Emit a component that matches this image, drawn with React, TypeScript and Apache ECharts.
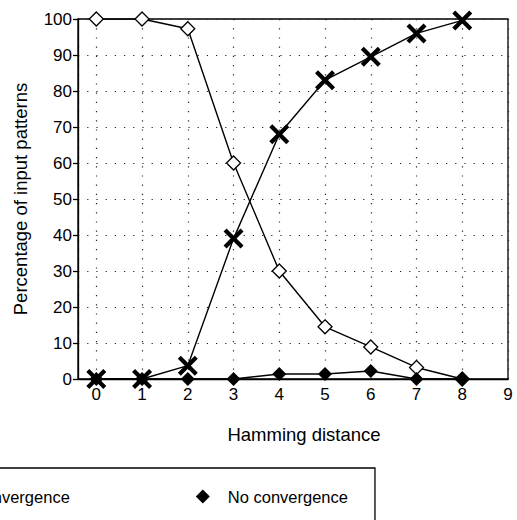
import React, { useEffect, useRef } from "react";
import * as echarts from "echarts";

const hamming = [0, 1, 2, 3, 4, 5, 6, 7, 8];
const xTickLabels = [0, 1, 2, 3, 4, 5, 6, 7, 8, 9];
const correctConv = [100, 100, 97.3, 60, 30, 14.5, 8.9, 3.2, 0];
const incorrectConv = [0, 0, 3.7, 39, 68, 83, 89.5, 96, 99.6];
const noConv = [0, 0, 0, 0, 1.4, 1.4, 2.2, 0, 0];
const yTicks = [0, 10, 20, 30, 40, 50, 60, 70, 80, 90, 100];
const seriesNames = ["Correct convergence", "Incorrect convergence", "No convergence"];

const FONT = "'Liberation Sans', Arial, Helvetica, sans-serif";
const X_PATH =
  "path://M3,0 L10,7 L17,0 L20,3 L13,10 L20,17 L17,20 L10,13 L3,20 L0,17 L7,10 L0,3 Z";

const pairs = (ys: number[]) => hamming.map((x, i) => [x, ys[i]]);

export default function App() {
  const ref = useRef<HTMLDivElement>(null);
  useEffect(() => {
    if (!ref.current) return;
    const chart = echarts.init(ref.current, null, { renderer: "svg" });
    chart.setOption({
      animation: false,
      backgroundColor: "#fff",
      textStyle: { fontFamily: FONT, color: "#000" },
      grid: {
        left: 78,
        right: 9,
        top: 19,
        bottom: 141,
        show: true,
        borderColor: "#000",
        borderWidth: 1.3,
        containLabel: false,
      },
      legend: {
        left: -143,
        top: 468,
        orient: "horizontal",
        padding: [20, 27, 60, 27],
        itemGap: 126,
        itemWidth: 14,
        itemHeight: 14,
        borderColor: "#000",
        borderWidth: 1.3,
        backgroundColor: "#fff",
        textStyle: { fontFamily: FONT, fontSize: 16.5, color: "#000", padding: [0, 0, 0, 13] },
        data: [
          {
            name: seriesNames[0],
            icon: "diamond",
            itemStyle: { color: "#fff", borderColor: "#000", borderWidth: 1.3 },
          },
          {
            name: seriesNames[2],
            icon: "diamond",
            itemStyle: { color: "#000", borderColor: "#000", borderWidth: 0 },
          },
        ],
      },
      xAxis: {
        type: "value",
        min: -0.4,
        max: 9,
        splitNumber: 9,
        name: "Hamming distance",
        nameLocation: "middle",
        nameGap: 46,
        nameTextStyle: { fontFamily: FONT, fontSize: 18.5, color: "#000", padding: [0, 0, 0, 22] },
        axisLine: { show: true, onZero: false, lineStyle: { color: "#000", width: 1.3 } },
        axisTick: { show: false },
        axisLabel: {
          fontFamily: FONT,
          fontSize: 17,
          color: "#000",
          margin: 7,
          showMinLabel: false,
          formatter: (v: number) => (xTickLabels.includes(v) ? String(v) : ""),
        },
        splitLine: {
          show: true,
          lineStyle: { color: "#222", width: 1.2, type: [1.2, 8] },
        },
      },
      yAxis: {
        type: "value",
        min: yTicks[0],
        max: yTicks[yTicks.length - 1],
        interval: 10,
        name: "Percentage of input patterns",
        nameLocation: "middle",
        nameGap: 48,
        nameTextStyle: { fontFamily: FONT, fontSize: 18.5, color: "#000" },
        axisLine: { show: true, onZero: false, lineStyle: { color: "#000", width: 1.3 } },
        axisTick: { show: true, length: 5, lineStyle: { color: "#000", width: 1.3 } },
        axisLabel: { fontFamily: FONT, fontSize: 17, color: "#000", margin: 6 },
        splitLine: {
          show: true,
          lineStyle: { color: "#222", width: 1.2, type: [1.2, 8] },
        },
      },
      series: [
        {
          name: seriesNames[0],
          type: "line",
          data: pairs(correctConv),
          symbol: "diamond",
          symbolSize: [14, 14],
          showAllSymbol: true,
          lineStyle: { color: "#000", width: 1.4 },
          itemStyle: { color: "#fff", borderColor: "#000", borderWidth: 1.3 },
          z: 2,
        },
        {
          name: seriesNames[2],
          type: "line",
          data: pairs(noConv),
          symbol: "diamond",
          symbolSize: [14, 14],
          showAllSymbol: true,
          lineStyle: { color: "#000", width: 1.5 },
          itemStyle: { color: "#000", borderColor: "#000", borderWidth: 0 },
          z: 3,
        },
        {
          name: seriesNames[1],
          type: "line",
          data: pairs(incorrectConv),
          symbol: X_PATH,
          symbolSize: 20,
          showAllSymbol: true,
          lineStyle: { color: "#000", width: 1.4 },
          itemStyle: { color: "#000", borderColor: "#000", borderWidth: 0 },
          z: 4,
        },
      ],
    });
    return () => chart.dispose();
  }, []);
  return (
    <div
      ref={ref}
      style={{ position: "absolute", left: 0, top: 0, width: 517, height: 520 }}
    />
  );
}
